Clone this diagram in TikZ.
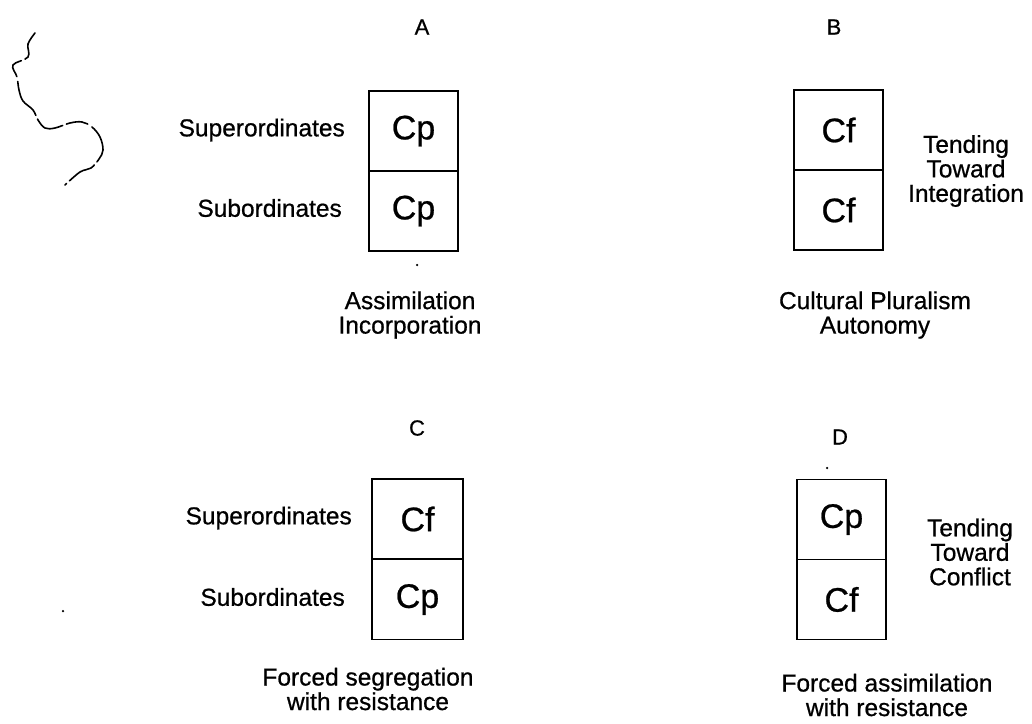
\documentclass[tikz,border=0pt]{standalone}
\usepackage{fontspec}
\setmainfont{Liberation Sans}[FakeBold=0.7]
\begin{document}
\begin{tikzpicture}[x=1pt,y=-1pt,
  cell/.style={draw,line width=1.8pt,minimum width=89pt,minimum height=80pt,inner sep=0pt,
    font=\fontsize{34}{34}\selectfont},
  side/.style={font=\fontsize{24.5}{24}\selectfont,inner sep=0pt},
  caption/.style={font=\fontsize{24.5}{24.5}\selectfont,align=center,inner sep=0pt},
  letter/.style={font=\fontsize{22}{22}\selectfont,inner sep=0pt},
  speck/.style={fill=black,inner sep=0pt,minimum size=2.5pt,circle}]
\useasboundingbox (0,0) rectangle (1032,723);

% panel A
\node[letter] (la) at (422,27) {A};
\node[cell] (aT) at (413.5,131) {Cp};
\node[cell] (aB) at (413.5,211) {Cp};
\node[side,anchor=east] (aSup) at (345,130) {Superordinates};
\node[side,anchor=east] (aSub) at (342,208) {Subordinates};
\node[caption] (aCap) at (410,315) {Assimilation\\Incorporation};
\node[speck] (aDot) at (417,265) {};

% panel B
\node[letter] (lb) at (834,27) {B};
\node[cell] (bT) at (838.5,130) {Cf};
\node[cell] (bB) at (838.5,210) {Cf};
\node[caption] (bSide) at (966,171) {Tending\\Toward\\Integration};
\node[caption] (bCap) at (875,315) {Cultural Pluralism\\Autonomy};

% panel C
\node[letter] (lc) at (417,428) {C};
\node[cell,minimum width=91pt] (cT) at (417.5,519) {Cf};
\node[cell,minimum width=91pt] (cB) at (417.5,599.5) {Cp};
\node[side,anchor=east] (cSup) at (352,518) {Superordinates};
\node[side,anchor=east] (cSub) at (345,597) {Subordinates};
\node[caption] (cCap) at (368,689) {Forced segregation\\with resistance};

% panel D
\node[letter] (ld) at (840,437) {D};
\node[speck] (dDot) at (827,468) {};
\node[cell] (dT) at (841.5,519.5) {Cp};
\node[cell] (dB) at (841.5,599.5) {Cf};
\node[caption] (dSide) at (970,552) {Tending\\Toward\\Conflict};
\node[caption] (dCap) at (887,695) {Forced assimilation\\with resistance};

% stray marks
\node[speck] (eDot) at (63,611) {};
\draw[line width=1.6pt,line cap=round,dash pattern=on 30pt off 4pt on 22pt off 5pt on 40pt off 4pt]
  plot[smooth,tension=0.6] coordinates {(35,33) (28,44) (28,57) (13,65) (17,77) (19,90)
  (23,101) (33,110) (38,120) (45,128) (55,128) (70,123) (82,122) (92,127) (100,137)
  (103,150) (99,159) (91,168) (80,172) (65,185)};
\end{tikzpicture}
\end{document}
